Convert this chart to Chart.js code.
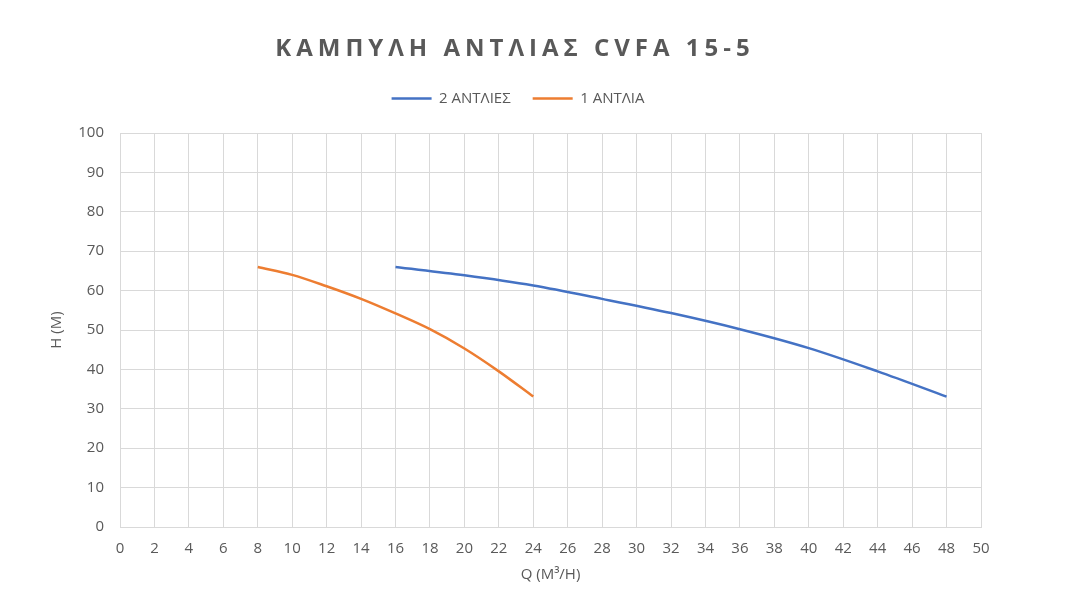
<!DOCTYPE html>
<html>
<head>
<meta charset="utf-8">
<script src="https://cdn.jsdelivr.net/npm/chart.js@4/dist/chart.umd.min.js"></script>
<style>
  html, body { margin: 0; padding: 0; background: #fff; }
  #wrap { position: relative; width: 1079px; height: 605px; }
  #title {
    position: absolute; left: 0; top: 34px; width: 1030px;
    text-align: center; font: bold 24px "Open Sans", sans-serif;
    line-height: 26px; letter-spacing: 5px; color: #595959;
  }
</style>
</head>
<body>
<div id="wrap">
  <div id="title">ΚΑΜΠΥΛΗ ΑΝΤΛΙΑΣ CVFA 15-5</div>
  <canvas id="pump-chart" width="1079" height="605"></canvas>
</div>
<script>
// values
const seriesNames = ['2 ΑΝΤΛΙΕΣ', '1 ΑΝΤΛΙΑ'];
const twoPumpsQ = [16, 20, 24, 28, 32, 36, 40, 44, 48];
const twoPumpsH = [66, 63.9, 61.3, 57.9, 54.3, 50.2, 45.4, 39.5, 33.1];
const onePumpQ = [8, 10, 12, 14, 16, 18, 20, 22, 24];
const onePumpH = [66, 64.0, 61.1, 57.9, 54.2, 50.2, 45.3, 39.5, 33.1];

const xTitle = 'Q (M³/H)';
const yTitle = 'H (M)';

const grey = '#595959';
const gridGrey = '#d9d9d9';
Chart.defaults.font.family = '"Open Sans", sans-serif';
Chart.defaults.color = grey;

function toPoints(xs, ys) {
    return xs.map((x, i) => ({ x: x, y: ys[i] }));
}

// leave some room between the legend and the plot, like Excel does
const legendGap = {
    id: 'legendGap',
    beforeLayout(chart) {
        const leg = chart.legend;
        if (leg && !leg._gapped) {
            const fit = leg.fit;
            leg.fit = function () {
                fit.call(this);
                this.height += 17;
            };
            leg._gapped = true;
        }
    }
};

const ctx = document.getElementById('pump-chart').getContext('2d');
const chart = new Chart(ctx, {
    type: 'scatter',
    data: {
        datasets: [{
            label: seriesNames[0],
            data: toPoints(twoPumpsQ, twoPumpsH),
            borderColor: '#4472C4',
            backgroundColor: '#4472C4',
            borderWidth: 2.5,
            showLine: true,
            pointRadius: 0,
            cubicInterpolationMode: 'monotone'
        }, {
            label: seriesNames[1],
            data: toPoints(onePumpQ, onePumpH),
            borderColor: '#ED7D31',
            backgroundColor: '#ED7D31',
            borderWidth: 2.5,
            showLine: true,
            pointRadius: 0,
            cubicInterpolationMode: 'monotone'
        }]
    },
    plugins: [legendGap],
    options: {
        responsive: false,
        animation: false,
        layout: { padding: { left: 55, right: 98, top: 69, bottom: 0 } },
        plugins: {
            tooltip: { enabled: false },
            legend: {
                position: 'top',
                labels: {
                    usePointStyle: true,
                    pointStyle: 'line',
                    pointStyleWidth: 40,
                    padding: 22,
                    font: { size: 15 },
                    color: grey
                }
            }
        },
        scales: {
            x: {
                type: 'linear',
                min: 0,
                max: 50,
                ticks: { stepSize: 2, padding: 13, font: { size: 15 }, color: grey },
                grid: { color: gridGrey, drawTicks: false },
                border: { color: gridGrey },
                title: { display: true, text: xTitle, font: { size: 15 }, color: grey, padding: { top: 0, bottom: 21 } },
                afterFit: scale => { scale.height = 78; }
            },
            y: {
                min: 0,
                max: 100,
                ticks: { stepSize: 10, padding: 16, font: { size: 15 }, color: grey },
                grid: { color: gridGrey, drawTicks: false },
                border: { color: gridGrey },
                title: { display: true, text: yTitle, font: { size: 15 }, color: grey, padding: { top: -7, bottom: 0 } },
                afterFit: scale => { scale.width = 65; }
            }
        }
    }
});
</script>
</body>
</html>
